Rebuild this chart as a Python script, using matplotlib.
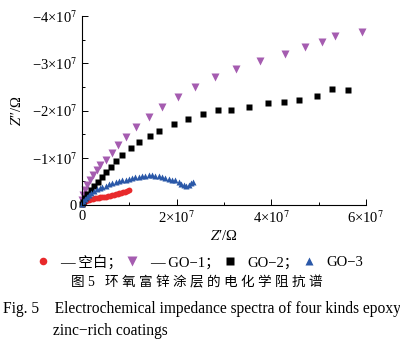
import matplotlib
matplotlib.use("Agg")
import matplotlib.pyplot as plt
from matplotlib.ticker import FuncFormatter, MultipleLocator

plt.rcParams["font.family"] = ["Liberation Serif", "Noto Sans CJK SC"]
plt.rcParams["mathtext.fontset"] = "stix"

# Nyquist data, both axes in units of 1e7 ohm (Z'' negative)
blank_re = [0.02, 0.05, 0.08, 0.11, 0.15, 0.19, 0.23, 0.27, 0.31, 0.35, 0.39, 0.43, 0.47,
            0.51, 0.55, 0.59, 0.63, 0.67, 0.71, 0.75, 0.79, 0.83, 0.87, 0.91, 0.95, 0.99]
blank_im = [-0.03, -0.06, -0.08, -0.10, -0.11, -0.12, -0.13, -0.14, -0.14, -0.15, -0.16, -0.16, -0.17,
            -0.18, -0.19, -0.20, -0.21, -0.22, -0.23, -0.24, -0.25, -0.26, -0.27, -0.28, -0.30, -0.32]

go1_re = [0.01, 0.03, 0.06, 0.11, 0.17, 0.24, 0.31, 0.39, 0.50, 0.63, 0.76, 0.93, 1.15,
          1.42, 1.70, 2.02, 2.39, 2.81, 3.25, 3.76, 4.29, 4.71, 5.07, 5.34, 5.92]
go1_im = [-0.10, -0.21, -0.32, -0.42, -0.53, -0.63, -0.74, -0.84, -0.95, -1.10, -1.27, -1.45, -1.65,
          -1.87, -2.08, -2.28, -2.49, -2.71, -2.88, -3.05, -3.20, -3.34, -3.45, -3.58, -3.66]

go2_re = [0.01, 0.03, 0.06, 0.11, 0.18, 0.25, 0.34, 0.42, 0.51, 0.61, 0.72, 0.85, 1.03, 1.21,
          1.43, 1.63, 1.94, 2.23, 2.56, 2.88, 3.15, 3.53, 3.94, 4.26, 4.58, 4.97, 5.29, 5.62]
go2_im = [-0.02, -0.07, -0.14, -0.23, -0.32, -0.40, -0.49, -0.60, -0.70, -0.81, -0.93, -1.06, -1.20, -1.33,
          -1.46, -1.57, -1.71, -1.83, -1.93, -2.01, -2.01, -2.08, -2.17, -2.18, -2.22, -2.31, -2.46, -2.44]

go3_re = [0.01, 0.03, 0.06, 0.10, 0.14, 0.19, 0.25, 0.31, 0.37, 0.43, 0.50, 0.57, 0.64, 0.71,
          0.78, 0.85, 0.92, 0.99, 1.06, 1.13, 1.20, 1.27, 1.34, 1.41, 1.48, 1.55, 1.62, 1.69,
          1.76, 1.83, 1.90, 1.97, 2.04, 2.10, 2.15, 2.20, 2.25, 2.30, 2.34]
go3_im = [-0.03, -0.08, -0.13, -0.18, -0.22, -0.26, -0.30, -0.33, -0.36, -0.38, -0.41, -0.44, -0.46, -0.48,
          -0.50, -0.52, -0.54, -0.56, -0.57, -0.59, -0.60, -0.61, -0.62, -0.63, -0.63, -0.62, -0.61, -0.60,
          -0.58, -0.56, -0.54, -0.52, -0.48, -0.45, -0.42, -0.40, -0.42, -0.46, -0.49]

labels = ["\u2014 空白；", "\u2014 GO\u22121；", "GO\u22122；", "GO\u22123"]

SCALE = 1e7


def sci_label(v, pos):
    if abs(v) < 1:
        return "0"
    n = int(round(v / SCALE))
    sign = "\u2212" if n < 0 else ""
    return f"{sign}{abs(n)}\u00d710$^{{7}}$"


fig = plt.figure(figsize=(4.0, 3.46), dpi=100)
ax = fig.add_axes([0.205, 0.4075, 0.71, 0.546])

ax.plot([x * SCALE for x in blank_re], [y * SCALE for y in blank_im], "o", color="#e8292b",
        ms=4.2, mec="none", label=labels[0], clip_on=False)
ax.plot([x * SCALE for x in go1_re], [y * SCALE for y in go1_im], "v", color="#a55cb0",
        ms=5.5, mec="none", label=labels[1], clip_on=False)
ax.plot([x * SCALE for x in go2_re], [y * SCALE for y in go2_im], "s", color="black",
        ms=4.4, mec="none", label=labels[2], clip_on=False)
ax.plot([x * SCALE for x in go3_re], [y * SCALE for y in go3_im], "^", color="#2a58a8",
        ms=4.6, mec="none", label=labels[3], clip_on=False)

ax.set_xlim(0, 6e7)
ax.set_ylim(0, -4e7)
for s in ("top", "right"):
    ax.spines[s].set_visible(False)
for s in ("left", "bottom"):
    ax.spines[s].set_linewidth(0.8)

ax.xaxis.set_major_locator(MultipleLocator(2e7))
ax.xaxis.set_minor_locator(MultipleLocator(1e7))
ax.yaxis.set_major_locator(MultipleLocator(1e7))
ax.yaxis.set_minor_locator(MultipleLocator(0.5e7))
ax.xaxis.set_major_formatter(FuncFormatter(sci_label))
ax.yaxis.set_major_formatter(FuncFormatter(sci_label))
ax.tick_params(which="both", direction="in", labelsize=10.5, width=0.7, colors="black")
ax.tick_params(which="major", length=4)
ax.tick_params(which="minor", length=2.5)

ax.set_xlabel("$Z$\u2032/\u03a9", fontsize=10.5, labelpad=2)
ax.set_ylabel("$Z$\u2033/\u03a9", fontsize=10.5, labelpad=6)

fig.legend(loc="center", bbox_to_anchor=(0.50, 0.243), ncol=4, frameon=False, fontsize=10.5,
           handlelength=0.8, handletextpad=0.8, columnspacing=0.3, borderpad=0, markerscale=1.3)

fig.text(0.493, 0.182, "图 5   环 氧 富 锌 涂 层 的 电 化 学 阻 抗 谱", ha="center", va="center",
         fontsize=9.8)
fig.text(0.008, 0.107, "Fig. 5    Electrochemical impedance spectra of four kinds epoxy",
         ha="left", va="center", fontsize=11.2)
fig.text(0.133, 0.043, "zinc\u2212rich coatings", ha="left", va="center", fontsize=11.2)

fig.savefig("out.png", dpi=100)
